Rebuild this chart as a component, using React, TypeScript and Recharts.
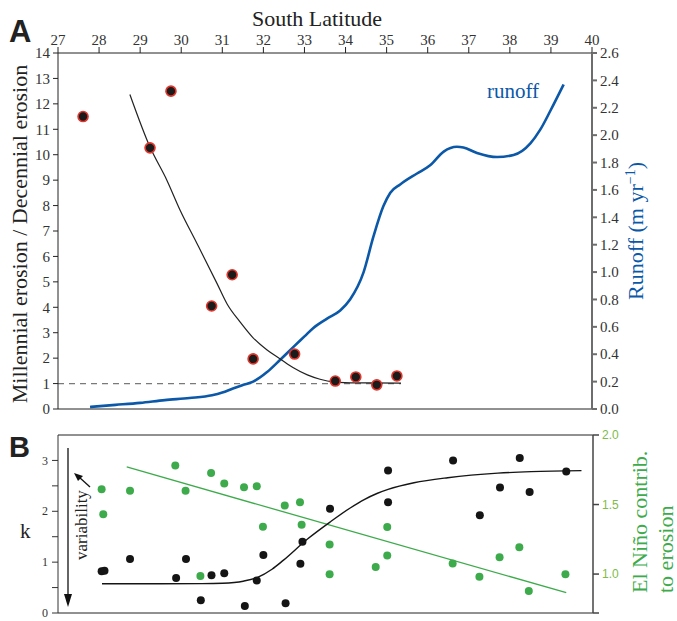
import { ComposedChart, Line, Scatter, XAxis, YAxis } from 'recharts';

const SERIF = '"Liberation Serif", "Times New Roman", serif';
const SANS = '"Liberation Sans", Arial, sans-serif';
const BLUE = '#0b58a8';
const GREEN = '#3dab4b';
const GREEN_TICK = '#7dbb4a';

// latitude ticks shared by both panels
const latTicks = [27, 28, 29, 30, 31, 32, 33, 34, 35, 36, 37, 38, 39, 40];
const erosionTicks = [0, 1, 2, 3, 4, 5, 6, 7, 8, 9, 10, 11, 12, 13, 14];
const runoffTicks = [0, 0.2, 0.4, 0.6, 0.8, 1.0, 1.2, 1.4, 1.6, 1.8, 2.0, 2.2, 2.4, 2.6];
const kTicks = [0, 0.5, 1, 1.5, 2, 2.5, 3];
const ninoTicks = [0.72, 1.0, 1.5, 2.0];

// panel A
const erosionPoints = [
    { lat: 27.61, v: 11.5 },
    { lat: 29.24, v: 10.27 },
    { lat: 29.75, v: 12.5 },
    { lat: 30.74, v: 4.05 },
    { lat: 31.24, v: 5.28 },
    { lat: 31.75, v: 1.97 },
    { lat: 32.76, v: 2.16 },
    { lat: 33.75, v: 1.1 },
    { lat: 34.25, v: 1.26 },
    { lat: 34.76, v: 0.95 },
    { lat: 35.25, v: 1.3 },
];

const erosionFit = [
    { lat: 28.75, v: 12.37 },
    { lat: 29.24, v: 10.3 },
    { lat: 29.65, v: 9.0 },
    { lat: 29.97, v: 7.83 },
    { lat: 30.38, v: 6.52 },
    { lat: 30.87, v: 4.94 },
    { lat: 31.12, v: 4.12 },
    { lat: 31.43, v: 3.43 },
    { lat: 31.75, v: 2.8 },
    { lat: 32.09, v: 2.32 },
    { lat: 32.41, v: 1.97 },
    { lat: 32.73, v: 1.62 },
    { lat: 33.07, v: 1.34 },
    { lat: 33.38, v: 1.17 },
    { lat: 33.7, v: 1.07 },
    { lat: 34.3, v: 1.03 },
    { lat: 35.35, v: 1.02 },
];

const parity = [
    { lat: 27, v: 1 },
    { lat: 35.35, v: 1 },
];

const runoff = [
    { lat: 27.78, r: 0.015 },
    { lat: 28.4, r: 0.03 },
    { lat: 29.0, r: 0.045 },
    { lat: 29.6, r: 0.065 },
    { lat: 30.2, r: 0.08 },
    { lat: 30.75, r: 0.1 },
    { lat: 31.0, r: 0.12 },
    { lat: 31.26, r: 0.15 },
    { lat: 31.5, r: 0.175 },
    { lat: 31.75, r: 0.2 },
    { lat: 32.09, r: 0.27 },
    { lat: 32.41, r: 0.36 },
    { lat: 32.72, r: 0.45 },
    { lat: 33.0, r: 0.53 },
    { lat: 33.21, r: 0.59 },
    { lat: 33.55, r: 0.66 },
    { lat: 33.87, r: 0.72 },
    { lat: 34.11, r: 0.8 },
    { lat: 34.44, r: 1.0 },
    { lat: 34.68, r: 1.26 },
    { lat: 34.92, r: 1.48 },
    { lat: 35.09, r: 1.58 },
    { lat: 35.33, r: 1.64 },
    { lat: 35.74, r: 1.72 },
    { lat: 36.06, r: 1.78 },
    { lat: 36.39, r: 1.88 },
    { lat: 36.71, r: 1.915 },
    { lat: 36.87, r: 1.91 },
    { lat: 37.2, r: 1.87 },
    { lat: 37.69, r: 1.84 },
    { lat: 38.09, r: 1.855 },
    { lat: 38.5, r: 1.94 },
    { lat: 38.74, r: 2.04 },
    { lat: 38.99, r: 2.18 },
    { lat: 39.31, r: 2.37 },
];

// panel B
const kPoints = [
    { lat: 28.06, k: 0.82 },
    { lat: 28.13, k: 0.83 },
    { lat: 28.75, k: 1.06 },
    { lat: 29.87, k: 0.69 },
    { lat: 30.11, k: 1.06 },
    { lat: 30.47, k: 0.25 },
    { lat: 30.73, k: 0.74 },
    { lat: 31.04, k: 0.78 },
    { lat: 31.54, k: 0.14 },
    { lat: 31.83, k: 0.64 },
    { lat: 31.99, k: 1.14 },
    { lat: 32.53, k: 0.19 },
    { lat: 32.89, k: 0.97 },
    { lat: 32.94, k: 1.4 },
    { lat: 33.61, k: 2.05 },
    { lat: 35.02, k: 2.8 },
    { lat: 35.02, k: 2.18 },
    { lat: 36.6, k: 3.0 },
    { lat: 37.25, k: 1.92 },
    { lat: 37.74, k: 2.47 },
    { lat: 38.22, k: 3.05 },
    { lat: 38.46, k: 2.38 },
    { lat: 39.35, k: 2.78 },
];

const kFit = [
    { lat: 28.07, k: 0.575 },
    { lat: 29.5, k: 0.575 },
    { lat: 30.5, k: 0.577 },
    { lat: 31.0, k: 0.585 },
    { lat: 31.5, k: 0.625 },
    { lat: 31.85, k: 0.7 },
    { lat: 32.2, k: 0.86 },
    { lat: 32.48, k: 1.04 },
    { lat: 33.07, k: 1.46 },
    { lat: 33.63, k: 1.8 },
    { lat: 34.11, k: 2.07 },
    { lat: 34.44, k: 2.23 },
    { lat: 34.75, k: 2.35 },
    { lat: 35.02, k: 2.43 },
    { lat: 35.65, k: 2.56 },
    { lat: 36.47, k: 2.66 },
    { lat: 37.69, k: 2.75 },
    { lat: 38.5, k: 2.78 },
    { lat: 39.72, k: 2.8 },
];

const ninoPoints = [
    { lat: 28.06, e: 1.609 },
    { lat: 28.1, e: 1.431 },
    { lat: 28.75, e: 1.6 },
    { lat: 29.85, e: 1.781 },
    { lat: 30.1, e: 1.6 },
    { lat: 30.46, e: 0.986 },
    { lat: 30.72, e: 1.726 },
    { lat: 31.04, e: 1.652 },
    { lat: 31.52, e: 1.624 },
    { lat: 31.83, e: 1.631 },
    { lat: 31.98, e: 1.341 },
    { lat: 32.51, e: 1.493 },
    { lat: 32.88, e: 1.516 },
    { lat: 32.92, e: 1.355 },
    { lat: 33.6, e: 1.212 },
    { lat: 33.6, e: 0.998 },
    { lat: 34.72, e: 1.05 },
    { lat: 35.0, e: 1.338 },
    { lat: 35.0, e: 1.134 },
    { lat: 36.59, e: 1.076 },
    { lat: 37.24, e: 0.981 },
    { lat: 37.73, e: 1.121 },
    { lat: 38.21, e: 1.193 },
    { lat: 38.44, e: 0.879 },
    { lat: 39.33, e: 0.998 },
];

const ninoFit = [
    { lat: 28.67, e: 1.77 },
    { lat: 39.35, e: 0.866 },
];

// tick label renderer, so the font is certain
const makeTick = (fmt: (v: number) => string, size: number, color: string, family: string, dy: string) =>
    (p: any) => (
        <text
            x={p.x}
            y={p.y}
            dy={dy}
            textAnchor={p.textAnchor}
            fill={color}
            fontSize={size}
            fontFamily={family}
        >
            {fmt(p.payload.value)}
        </text>
    );

const plain = (v: number) => String(v);

const ErosionDot = (p: any) => (
    <circle cx={p.cx} cy={p.cy} r={5} fill="#1b1b1b" stroke="#e2362c" strokeWidth={1.6} />
);
const KDot = (p: any) => <circle cx={p.cx} cy={p.cy} r={4} fill="#151515" />;
const NinoDot = (p: any) => <circle cx={p.cx} cy={p.cy} r={4} fill={GREEN} />;

const PanelA = () => (
    <ComposedChart width={677} height={420} margin={{ top: 23, right: 0, bottom: 0, left: 0 }}>
        <XAxis
            xAxisId="top"
            orientation="top"
            type="number"
            dataKey="lat"
            domain={[27, 40]}
            ticks={latTicks}
            interval={0}
            height={30}
            tickSize={6}
            tick={makeTick(plain, 15, '#333', SERIF, '0')}
            stroke="#222"
        />
        <XAxis
            xAxisId="bottom"
            orientation="bottom"
            type="number"
            dataKey="lat"
            domain={[27, 40]}
            ticks={latTicks}
            interval={0}
            height={11}
            tickSize={5}
            tick={false}
            stroke="#222"
        />
        <YAxis
            yAxisId="left"
            type="number"
            domain={[0, 14]}
            ticks={erosionTicks}
            interval={0}
            width={58}
            tickSize={5}
            tickMargin={3}
            tick={makeTick(plain, 15, '#333', SERIF, '0.35em')}
            stroke="#222"
        />
        <YAxis
            yAxisId="right"
            orientation="right"
            type="number"
            domain={[0, 2.6]}
            ticks={runoffTicks}
            interval={0}
            width={85}
            tickSize={5}
            tickMargin={3}
            tick={makeTick((v) => v.toFixed(1), 15, '#333', SERIF, '0.35em')}
            stroke="#6d6d6d"
            strokeWidth={2}
        />
        <Line
            xAxisId="top"
            yAxisId="left"
            data={parity}
            dataKey="v"
            stroke="#7a7a7a"
            strokeWidth={1.3}
            strokeDasharray="6 5"
            dot={false}
            activeDot={false}
            isAnimationActive={false}
        />
        <Line
            xAxisId="top"
            yAxisId="right"
            data={runoff}
            dataKey="r"
            type="monotone"
            stroke={BLUE}
            strokeWidth={2.6}
            dot={false}
            activeDot={false}
            isAnimationActive={false}
        />
        <Line
            xAxisId="top"
            yAxisId="left"
            data={erosionFit}
            dataKey="v"
            type="monotone"
            stroke="#222"
            strokeWidth={1.2}
            dot={false}
            activeDot={false}
            isAnimationActive={false}
        />
        <Scatter
            xAxisId="top"
            yAxisId="left"
            data={erosionPoints}
            dataKey="v"
            shape={ErosionDot}
            isAnimationActive={false}
        />
    </ComposedChart>
);

const PanelB = () => (
    <ComposedChart width={677} height={201} margin={{ top: 5, right: 0, bottom: 0, left: 0 }}>
        <XAxis
            xAxisId="top"
            orientation="top"
            type="number"
            dataKey="lat"
            domain={[27, 40]}
            ticks={latTicks}
            interval={0}
            height={10}
            tickSize={6}
            tick={false}
            stroke="#222"
        />
        <XAxis
            xAxisId="bottom"
            orientation="bottom"
            type="number"
            dataKey="lat"
            domain={[27, 40]}
            ticks={latTicks}
            interval={0}
            height={8}
            tickSize={6}
            tick={false}
            stroke="#222"
        />
        <YAxis
            yAxisId="left"
            type="number"
            domain={[0, 3.5]}
            ticks={kTicks}
            interval={0}
            width={58}
            tickSize={6}
            tickMargin={4}
            tick={makeTick((v) => (Number.isInteger(v) ? String(v) : ''), 12, '#333', SERIF, '0.35em')}
            stroke="#333"
        />
        <YAxis
            yAxisId="right"
            orientation="right"
            type="number"
            domain={[0.72, 2.0]}
            ticks={ninoTicks}
            interval={0}
            width={84}
            tickSize={6}
            tickMargin={3}
            tick={makeTick((v) => (v < 0.9 ? '' : v.toFixed(1)), 12, GREEN_TICK, SANS, '0.35em')}
            stroke="#444"
            strokeWidth={1.5}
        />
        <Line
            xAxisId="bottom"
            yAxisId="right"
            data={ninoFit}
            dataKey="e"
            stroke={GREEN}
            strokeWidth={1.3}
            dot={false}
            activeDot={false}
            isAnimationActive={false}
        />
        <Line
            xAxisId="bottom"
            yAxisId="left"
            data={kFit}
            dataKey="k"
            type="monotone"
            stroke="#151515"
            strokeWidth={1.4}
            dot={false}
            activeDot={false}
            isAnimationActive={false}
        />
        <Scatter
            xAxisId="bottom"
            yAxisId="right"
            data={ninoPoints}
            dataKey="e"
            shape={NinoDot}
            isAnimationActive={false}
        />
        <Scatter
            xAxisId="bottom"
            yAxisId="left"
            data={kPoints}
            dataKey="k"
            shape={KDot}
            isAnimationActive={false}
        />
    </ComposedChart>
);

export default function App() {
    return (
        <div style={{ position: 'absolute', left: 0, top: 0, width: 677, height: 621, background: '#fff' }}>
            <div style={{ position: 'absolute', left: 0, top: 0 }}>
                <PanelA />
            </div>
            <div style={{ position: 'absolute', left: 0, top: 420 }}>
                <PanelB />
            </div>
            <svg
                width={677}
                height={621}
                style={{ position: 'absolute', left: 0, top: 0, pointerEvents: 'none' }}
            >
                <g fontFamily={SERIF} fill="#222">
                    <text x={9} y={42} fontFamily={SANS} fontWeight="bold" fontSize={31}>A</text>
                    <text x={9} y={457} fontFamily={SANS} fontWeight="bold" fontSize={29}>B</text>
                    <text x={317} y={26} textAnchor="middle" fontSize={22}>South Latitude</text>
                    <text transform="translate(27,234) rotate(-90)" textAnchor="middle" fontSize={22}>
                        Millennial erosion / Decennial erosion
                    </text>
                    <text transform="translate(643,231) rotate(-90)" textAnchor="middle" fontSize={22} fill={BLUE}>
                        Runoff (m yr<tspan dy={-8} fontSize={14}>−1</tspan><tspan dy={8}>)</tspan>
                    </text>
                    <text x={487} y={98} fontSize={21} fill={BLUE}>runoff</text>
                    <text x={20} y={538} fontSize={21}>k</text>
                    <text transform="translate(87,560) rotate(-90)" fontSize={17}>variability</text>
                    <text transform="translate(647,593) rotate(-90)" fontSize={22} fill={GREEN}>El Niño contrib.</text>
                    <text transform="translate(673,593) rotate(-90)" fontSize={22} fill={GREEN}>to erosion</text>
                </g>
                <line x1={68} y1={448} x2={68} y2={598} stroke="#111" strokeWidth={1.3} />
                <polygon points="68,607 64,594 72,594" fill="#111" />
                <line x1={90} y1={487} x2={79} y2={477} stroke="#111" strokeWidth={1.3} />
                <polygon points="74,473 83,476 78,481" fill="#111" />
            </svg>
        </div>
    );
}
